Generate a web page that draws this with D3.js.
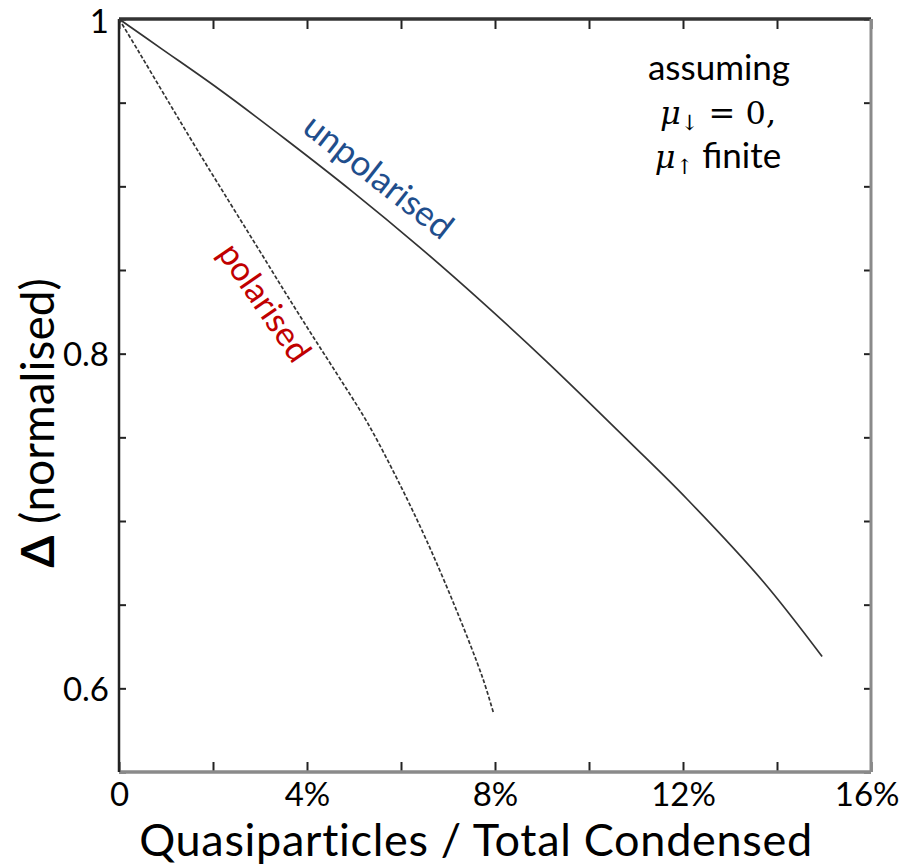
<!DOCTYPE html>
<html>
<head>
<meta charset="utf-8">
<script src="https://cdn.jsdelivr.net/npm/d3@7"></script>
<style>
  html, body { margin: 0; padding: 0; background: #fff; }
  svg { display: block; }
  text { font-family: Lato, "Open Sans", "DejaVu Sans", sans-serif; }
</style>
</head>
<body>
<svg id="chart" width="903" height="867"></svg>
<script>
// Quasiparticle fraction (%) and normalised gap for each case
const unpolarisedX = [0, 0.915, 2.13, 3.55, 4.96, 6.38, 7.68, 9.11, 10.87, 12.09, 13.70, 14.96];
const unpolarisedY = [1, 0.982, 0.958, 0.928, 0.897, 0.864, 0.832, 0.795, 0.747, 0.713, 0.664, 0.619];
const polarisedX = [0, 0.43, 1.0, 1.64, 2.34, 2.98, 3.55, 4.11, 4.68, 5.28, 5.92, 6.55, 7.19, 7.74, 7.97];
const polarisedY = [1, 0.980, 0.953, 0.923, 0.891, 0.862, 0.836, 0.811, 0.786, 0.759, 0.725, 0.688, 0.646, 0.606, 0.585];

// Axis ticks
const xTicks = [0, 2, 4, 6, 8, 10, 12, 14, 16];
const xTickLabels = ["0", "", "4%", "", "8%", "", "12%", "", "16%"];
const yTicks = [0.55, 0.6, 0.65, 0.7, 0.75, 0.8, 0.85, 0.9, 0.95, 1];
const yTickLabels = ["", "0.6", "", "", "", "0.8", "", "", "", "1"];

const svg = d3.select("#chart");
const plotL = 119, plotR = 871, plotT = 19, plotB = 772;

const x = d3.scaleLinear().domain([0, 16]).range([plotL, plotR]);
const y = d3.scaleLinear().domain([0.55, 1]).range([plotB, plotT]);

// Inward ticks on all four sides
const xLab = d => xTickLabels[xTicks.indexOf(d)];
const yLab = d => yTickLabels[yTicks.findIndex(v => Math.abs(v - d) < 1e-9)];

const gxb = svg.append("g").attr("transform", `translate(0,${plotB})`)
  .call(d3.axisBottom(x).tickValues(xTicks).tickSize(-10).tickFormat(xLab));
const gxt = svg.append("g").attr("transform", `translate(0,${plotT})`)
  .call(d3.axisTop(x).tickValues(xTicks).tickSize(-10).tickFormat(""));
const gyl = svg.append("g").attr("transform", `translate(${plotL},0)`)
  .call(d3.axisLeft(y).tickValues(yTicks).tickSize(-7).tickPadding(10).tickFormat(yLab));
const gyr = svg.append("g").attr("transform", `translate(${plotR},0)`)
  .call(d3.axisRight(y).tickValues(yTicks).tickSize(-7).tickFormat(""));

[gxb, gxt, gyl, gyr].forEach(g => {
  g.select(".domain").remove();
  g.selectAll(".tick line").attr("stroke", "#222").attr("stroke-width", 2);
  g.selectAll(".tick text").style("font-size", "33px").style("fill", "#000")
    .style("font-family", "Lato, sans-serif");
});
gxb.selectAll(".tick text").attr("y", 34).attr("dy", 0);
// last label kept inside the page edge
gxb.selectAll(".tick text").filter(d => d === 16).attr("text-anchor", "end").attr("x", 899 - plotR);
gyl.selectAll(".tick text").attr("dy", "0.36em");
// top label nudged down so it stays on the page
gyl.selectAll(".tick text").filter(d => d === 1).attr("y", 2);

// Frame
svg.append("line").attr("x1", plotL).attr("x2", plotR).attr("y1", plotT).attr("y2", plotT)
  .attr("stroke", "#333").attr("stroke-width", 3.5);
svg.append("line").attr("x1", plotL).attr("x2", plotR).attr("y1", plotB).attr("y2", plotB)
  .attr("stroke", "#8a8a8a").attr("stroke-width", 3.5);
svg.append("line").attr("x1", plotL).attr("x2", plotL).attr("y1", plotT).attr("y2", plotB)
  .attr("stroke", "#222").attr("stroke-width", 2.5);
svg.append("line").attr("x1", plotR).attr("x2", plotR).attr("y1", plotT).attr("y2", plotB)
  .attr("stroke", "#8a8a8a").attr("stroke-width", 3);

// Curves
const line = d3.line().x(d => x(d[0])).y(d => y(d[1])).curve(d3.curveCatmullRom.alpha(0.5));
svg.append("path")
  .datum(d3.zip(unpolarisedX, unpolarisedY))
  .attr("d", line).attr("fill", "none").attr("stroke", "#333").attr("stroke-width", 1.7);
svg.append("path")
  .datum(d3.zip(polarisedX, polarisedY))
  .attr("d", line).attr("fill", "none").attr("stroke", "#333").attr("stroke-width", 1.7)
  .attr("stroke-dasharray", "4,2");

// Curve labels
svg.append("text").attr("transform", "translate(371,186) rotate(38)")
  .attr("text-anchor", "middle").style("font-size", "35px").style("fill", "#1f4e8c")
  .text("unpolarised");
svg.append("text").attr("transform", "translate(255,309) rotate(55.5)")
  .attr("text-anchor", "middle").style("font-size", "34px").style("fill", "#c00000")
  .text("polarised");

// Annotation
const ann = svg.append("g").attr("text-anchor", "middle").style("fill", "#000");
ann.append("text").attr("x", 719).attr("y", 80).style("font-size", "35px").text("assuming");
const l2 = ann.append("text").attr("x", 718).attr("y", 124).style("font-size", "32px")
  .style("font-family", "'DejaVu Serif', serif");
l2.append("tspan").style("font-style", "italic").text("μ");
l2.append("tspan").attr("dy", 6).style("font-size", "21px").text("↓");
l2.append("tspan").attr("dy", -6).text(" = 0,");
const l3 = ann.append("text").attr("x", 718).attr("y", 168).style("font-size", "35px");
l3.append("tspan").style("font-family", "'DejaVu Serif', serif").style("font-style", "italic").style("font-size", "32px").text("μ");
l3.append("tspan").attr("dy", 6).style("font-size", "21px").style("font-family", "'DejaVu Serif', serif").text("↑");
l3.append("tspan").attr("dy", -6).text(" finite");

// Axis titles
svg.append("text").attr("x", 476).attr("y", 856)
  .attr("text-anchor", "middle").style("font-size", "45px").style("letter-spacing", "0.7px")
  .style("fill", "#000")
  .text("Quasiparticles / Total Condensed");
const yt = svg.append("text").attr("transform", "translate(54,423) rotate(-90)")
  .attr("text-anchor", "middle").style("font-size", "46px").style("fill", "#000");
yt.append("tspan").style("font-weight", "bold").text("Δ");
yt.append("tspan").text(" (normalised)");
</script>
</body>
</html>
